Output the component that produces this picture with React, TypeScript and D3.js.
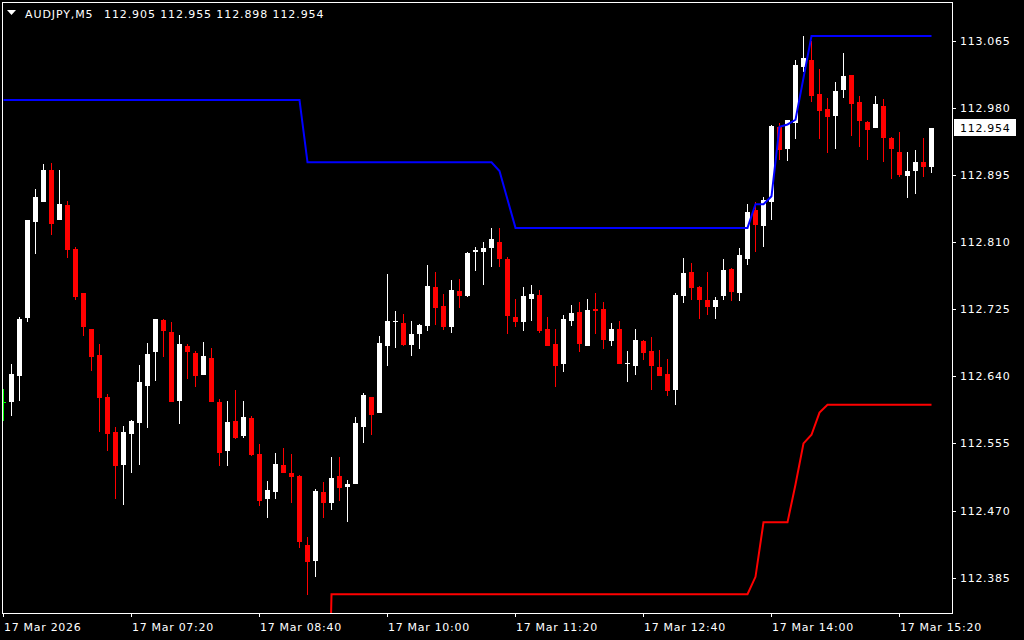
import { useEffect } from "react";
import * as d3 from "d3";

const symbol = "AUDJPY,M5";

// M5 bars from 17 Mar 06:00, one per 5 minutes
const opens = [
  112.608, 112.607, 112.640, 112.714, 112.836, 112.861, 112.901, 112.838, 112.857, 112.801,
  112.746, 112.700, 112.667, 112.614, 112.569, 112.528, 112.567, 112.581, 112.628, 112.671,
  112.711, 112.696, 112.609, 112.678, 112.670, 112.642, 112.663, 112.608, 112.546, 112.583,
  112.565, 112.587, 112.542, 112.484, 112.494, 112.528, 112.517, 112.514, 112.426, 112.406,
  112.493, 112.479, 112.514, 112.500, 112.504, 112.576, 112.614, 112.594, 112.678, 112.709,
  112.708, 112.680, 112.694, 112.704, 112.753, 112.729, 112.702, 112.748, 112.742, 112.797,
  112.798, 112.803, 112.810, 112.789, 112.715, 112.709, 112.738, 112.743, 112.700, 112.681,
  112.655, 112.710, 112.721, 112.679, 112.725, 112.725, 112.685, 112.700, 112.655, 112.653,
  112.685, 112.672, 112.652, 112.643, 112.623, 112.742, 112.772, 112.753, 112.737, 112.728,
  112.742, 112.776, 112.746, 112.789, 112.851, 112.831, 112.861, 112.956, 112.928, 112.961,
  113.032, 113.041, 112.998, 112.979, 112.970, 113.003, 113.022, 112.988, 112.962, 112.954,
  112.982, 112.942, 112.924, 112.894, 112.900, 112.911, 112.905,
];
const highs = [
  112.624, 112.656, 112.715, 112.838, 112.877, 112.909, 112.910, 112.901, 112.862, 112.804,
  112.746, 112.700, 112.681, 112.618, 112.576, 112.577, 112.585, 112.654, 112.682, 112.713,
  112.713, 112.709, 112.692, 112.681, 112.672, 112.683, 112.676, 112.611, 112.609, 112.623,
  112.609, 112.590, 112.554, 112.507, 112.543, 112.549, 112.542, 112.515, 112.436, 112.497,
  112.506, 112.538, 112.538, 112.509, 112.588, 112.619, 112.614, 112.691, 112.770, 112.723,
  112.719, 112.710, 112.706, 112.781, 112.772, 112.744, 112.762, 112.763, 112.797, 112.804,
  112.810, 112.828, 112.828, 112.791, 112.738, 112.753, 112.756, 112.749, 112.715, 112.700,
  112.718, 112.730, 112.734, 112.738, 112.746, 112.734, 112.708, 112.710, 112.672, 112.700,
  112.686, 112.690, 112.673, 112.662, 112.746, 112.790, 112.784, 112.754, 112.772, 112.740,
  112.789, 112.777, 112.803, 112.858, 112.861, 112.867, 112.958, 112.961, 112.965, 113.041,
  113.071, 113.065, 113.029, 112.993, 113.013, 113.050, 113.022, 112.995, 112.963, 112.995,
  112.991, 112.943, 112.949, 112.924, 112.927, 112.942, 112.955,
];
const lows = [
  112.584, 112.590, 112.609, 112.709, 112.795, 112.861, 112.819, 112.838, 112.790, 112.737,
  112.691, 112.647, 112.570, 112.546, 112.484, 112.477, 112.517, 112.528, 112.575, 112.634,
  112.664, 112.608, 112.580, 112.636, 112.626, 112.642, 112.607, 112.527, 112.527, 112.561,
  112.562, 112.539, 112.476, 112.460, 112.484, 112.518, 112.480, 112.422, 112.363, 112.386,
  112.460, 112.471, 112.482, 112.455, 112.503, 112.555, 112.566, 112.594, 112.653, 112.676,
  112.678, 112.666, 112.675, 112.698, 112.705, 112.699, 112.695, 112.727, 112.741, 112.773,
  112.756, 112.779, 112.778, 112.694, 112.703, 112.697, 112.710, 112.695, 112.678, 112.627,
  112.646, 112.704, 112.671, 112.679, 112.693, 112.675, 112.679, 112.656, 112.633, 112.642,
  112.661, 112.623, 112.641, 112.615, 112.604, 112.733, 112.737, 112.713, 112.718, 112.713,
  112.737, 112.735, 112.735, 112.781, 112.798, 112.804, 112.838, 112.914, 112.913, 112.940,
  113.025, 112.987, 112.941, 112.923, 112.928, 112.993, 112.944, 112.931, 112.914, 112.954,
  112.912, 112.890, 112.892, 112.866, 112.871, 112.892, 112.898,
];
const closes = [
  112.608, 112.643, 112.713, 112.838, 112.867, 112.901, 112.833, 112.858, 112.800, 112.741,
  112.702, 112.665, 112.613, 112.567, 112.527, 112.569, 112.583, 112.633, 112.668, 112.713,
  112.697, 112.608, 112.681, 112.671, 112.641, 112.666, 112.608, 112.543, 112.582, 112.562,
  112.588, 112.540, 112.482, 112.496, 112.529, 112.518, 112.513, 112.430, 112.405, 112.495,
  112.480, 112.511, 112.499, 112.504, 112.581, 112.616, 112.591, 112.682, 112.710, 112.710,
  112.680, 112.694, 112.705, 112.754, 112.727, 112.703, 112.749, 112.742, 112.796, 112.800,
  112.803, 112.814, 112.789, 112.716, 112.709, 112.742, 112.744, 112.698, 112.679, 112.653,
  112.713, 112.720, 112.681, 112.724, 112.723, 112.686, 112.700, 112.656, 112.657, 112.686,
  112.670, 112.653, 112.641, 112.622, 112.743, 112.771, 112.752, 112.737, 112.728, 112.737,
  112.775, 112.747, 112.794, 112.848, 112.832, 112.863, 112.957, 112.927, 112.965, 113.034,
  113.043, 112.995, 112.976, 112.968, 113.001, 113.020, 112.985, 112.963, 112.952, 112.985,
  112.942, 112.928, 112.895, 112.900, 112.911, 112.905, 112.954,
];

// channel indicator buffers
const upperBand = [
  112.990, 112.990, 112.990, 112.990, 112.990, 112.990, 112.990, 112.990, 112.990, 112.990,
  112.990, 112.990, 112.990, 112.990, 112.990, 112.990, 112.990, 112.990, 112.990, 112.990,
  112.990, 112.990, 112.990, 112.990, 112.990, 112.990, 112.990, 112.990, 112.990, 112.990,
  112.990, 112.990, 112.990, 112.990, 112.990, 112.990, 112.990, 112.990, 112.911, 112.911,
  112.911, 112.911, 112.911, 112.911, 112.911, 112.911, 112.911, 112.911, 112.911, 112.911,
  112.911, 112.911, 112.911, 112.911, 112.911, 112.911, 112.911, 112.911, 112.911, 112.911,
  112.911, 112.911, 112.900, 112.864, 112.828, 112.828, 112.828, 112.828, 112.828, 112.828,
  112.828, 112.828, 112.828, 112.828, 112.828, 112.828, 112.828, 112.828, 112.828, 112.828,
  112.828, 112.828, 112.828, 112.828, 112.828, 112.828, 112.828, 112.828, 112.828, 112.828,
  112.828, 112.828, 112.828, 112.828, 112.858, 112.858, 112.868, 112.956, 112.959, 112.965,
  113.018, 113.071, 113.071, 113.071, 113.071, 113.071, 113.071, 113.071, 113.071, 113.071,
  113.071, 113.071, 113.071, 113.071, 113.071, 113.071, 113.071,
];
const lowerBand = [
  null, null, null, null, null, null, null, null, null, null,
  null, null, null, null, null, null, null, null, null, null,
  null, null, null, null, null, null, null, null, null, null,
  null, null, null, null, null, null, null, null, null, null,
  111.900, 112.364, 112.364, 112.364, 112.364, 112.364, 112.364, 112.364, 112.364, 112.364,
  112.364, 112.364, 112.364, 112.364, 112.364, 112.364, 112.364, 112.364, 112.364, 112.364,
  112.364, 112.364, 112.364, 112.364, 112.364, 112.364, 112.364, 112.364, 112.364, 112.364,
  112.364, 112.364, 112.364, 112.364, 112.364, 112.364, 112.364, 112.364, 112.364, 112.364,
  112.364, 112.364, 112.364, 112.364, 112.364, 112.364, 112.364, 112.364, 112.364, 112.364,
  112.364, 112.364, 112.364, 112.364, 112.386, 112.455, 112.455, 112.455, 112.455, 112.503,
  112.555, 112.566, 112.594, 112.604, 112.604, 112.604, 112.604, 112.604, 112.604, 112.604,
  112.604, 112.604, 112.604, 112.604, 112.604, 112.604, 112.604,
];

const priceTicks = [113.065, 112.98, 112.895, 112.81, 112.725, 112.64, 112.555, 112.47, 112.385];
const timeLabels = [
  "17 Mar 2026", "17 Mar 07:20", "17 Mar 08:40", "17 Mar 10:00",
  "17 Mar 11:20", "17 Mar 12:40", "17 Mar 14:00", "17 Mar 15:20",
];
const timeLabelBars = [0, 16, 32, 48, 64, 80, 96, 112];

const FONT = "'DejaVu Sans', Verdana, sans-serif";

export default function App() {
  useEffect(() => {
    document.body.style.margin = "0";
    document.body.style.background = "#000";
  }, []);

  const x = d3.scaleLinear().domain([0, 16]).range([3, 131]);
  const y = d3.scaleLinear().domain([112.385, 113.065]).range([577.6, 40.8]);

  const candles = opens.map((o, i) => ({ i, o, h: highs[i], l: lows[i], c: closes[i] }));
  const last = candles[candles.length - 1];

  const line = d3
    .line<number | null>()
    .defined((d) => d != null)
    .x((_, i) => x(i) + 0.5)
    .y((d) => y(d as number));

  const upperPath = line(upperBand) ?? "";
  const lowerPath = line(lowerBand) ?? "";

  const lastY = Math.round(y(last.c));

  return (
    <svg width={1024} height={640} style={{ display: "block", background: "#000" }}>
      <defs>
        <clipPath id="plot">
          <rect x={3} y={3} width={949} height={610} />
        </clipPath>
      </defs>

      <g clipPath="url(#plot)" shapeRendering="crispEdges">
        {candles.map((d) => {
          const xc = Math.round(x(d.i));
          const doji = d.o === d.c;
          const up = d.c > d.o;
          const col = doji ? "#00ff00" : up ? "#ffffff" : "#ff0000";
          const top = Math.round(y(Math.max(d.o, d.c)));
          const bot = Math.round(y(Math.min(d.o, d.c)));
          const hi = Math.round(y(d.h));
          const lo = Math.round(y(d.l));
          return (
            <g key={d.i}>
              <rect x={xc} y={hi} width={1} height={Math.max(1, lo - hi)} fill={col} />
              <rect x={xc - 2} y={top} width={5} height={Math.max(1, bot - top)} fill={col} />
            </g>
          );
        })}
      </g>

      <g clipPath="url(#plot)" fill="none" strokeWidth={2}>
        <path d={upperPath} stroke="#0000ff" />
        <path d={lowerPath} stroke="#ff0000" />
      </g>

      <rect x={2.5} y={2.5} width={950} height={611} fill="none" stroke="#ffffff" shapeRendering="crispEdges" />

      {/* price axis */}
      <g fontFamily={FONT} fontSize={11} letterSpacing={0.7} fill="#ffffff">
        {priceTicks.map((p) => {
          const py = Math.round(y(p));
          return (
            <g key={p}>
              <rect x={953} y={py} width={3} height={1} fill="#ffffff" shapeRendering="crispEdges" />
              <text x={960} y={py + 4}>{p.toFixed(3)}</text>
            </g>
          );
        })}
        <rect x={954} y={lastY - 9} width={62} height={17} fill="#ffffff" shapeRendering="crispEdges" />
        <text x={960} y={lastY + 4} fill="#000000">{last.c.toFixed(3)}</text>
      </g>

      {/* time axis */}
      <g fontFamily={FONT} fontSize={11} letterSpacing={0.7} fill="#ffffff">
        {timeLabels.map((t, k) => {
          const tx = Math.round(x(timeLabelBars[k]));
          return (
            <g key={t}>
              <rect x={tx} y={614} width={1} height={3} fill="#ffffff" shapeRendering="crispEdges" />
              <text x={tx + 1} y={631}>{t}</text>
            </g>
          );
        })}
      </g>

      {/* legend */}
      <polygon points="7,10 16,10 11.5,15" fill="#ffffff" />
      <g fontFamily={FONT} fontSize={11} letterSpacing={0.9} fill="#ffffff">
        <text x={25} y={18}>{symbol}</text>
        <text x={104} y={18}>
          {[last.o, last.h, last.l, last.c].map((v) => v.toFixed(3)).join(" ")}
        </text>
      </g>
    </svg>
  );
}
